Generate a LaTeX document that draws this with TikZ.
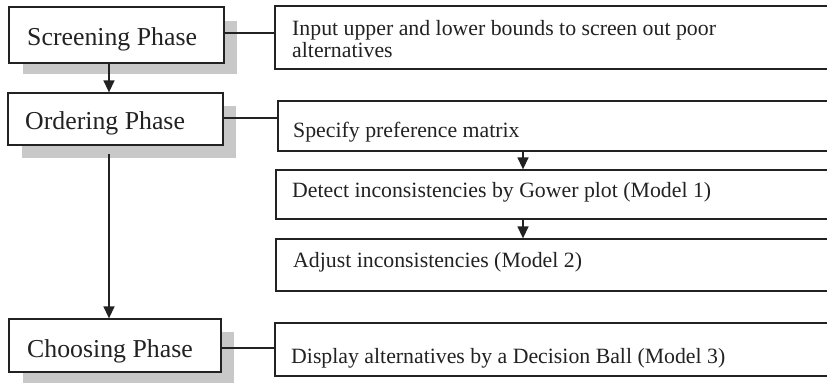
\documentclass[tikz,border=0pt]{standalone}
\usepackage{fontspec}
\setmainfont{Liberation Serif}
\usetikzlibrary{arrows.meta}
\definecolor{ink}{HTML}{222222}
\definecolor{shade}{HTML}{C8C8C8}
\begin{document}
\begin{tikzpicture}[x=1pt,y=-1pt,
  box/.style={draw=ink,line width=1.3pt,fill=white},
  shadowbox/.style={fill=shade},
  phasetxt/.style={inner sep=0pt,anchor=base west,font=\fontsize{25.8}{27}\selectfont,text=ink},
  steptxt/.style={inner sep=0pt,anchor=base west,font=\fontsize{21.8}{22}\selectfont,text=ink,align=left},
  conn/.style={draw=ink,line width=1.2pt},
  arr/.style={draw=ink,line width=1.4pt,-{Triangle[length=12pt,width=11pt]}}]
\useasboundingbox (0,0) rectangle (827,384);
\clip (0,0) rectangle (827,384);
% shadows
\fill[shadowbox] (23,21) rectangle (237,74);
\fill[shadowbox] (22,106) rectangle (236,158);
\fill[shadowbox] (23,332) rectangle (234,383);
% phase boxes
\node[box,inner sep=0pt,minimum width=215pt,minimum height=56pt] (S) at (116.5,35) {};
\node[box,inner sep=0pt,minimum width=215pt,minimum height=52pt] (O) at (115.5,119) {};
\node[box,inner sep=0pt,minimum width=212pt,minimum height=53pt] (C) at (115,345.5) {};
% step boxes
\node[box,inner sep=0pt,minimum width=560pt,minimum height=63pt] (I) at (555,37.5) {};
\node[box,inner sep=0pt,minimum width=557pt,minimum height=50pt] (P) at (556.5,126) {};
\node[box,inner sep=0pt,minimum width=559pt,minimum height=49pt] (D) at (555.5,194.5) {};
\node[box,inner sep=0pt,minimum width=559pt,minimum height=52pt] (A) at (555.5,265) {};
\node[box,inner sep=0pt,minimum width=560pt,minimum height=53pt] (B) at (555,349.5) {};
% texts
\node[phasetxt] (St) at (27,45) {Screening Phase};
\node[phasetxt] (Ot) at (25,129) {Ordering Phase};
\node[phasetxt] (Ct) at (27,357) {Choosing Phase};
\node[steptxt] (It1) at (292,35) {Input upper and lower bounds to screen out poor};
\node[steptxt] (It2) at (292,57) {alternatives};
\node[steptxt] (Pt) at (293,137) {Specify preference matrix};
\node[steptxt] (Dt) at (292,197) {Detect inconsistencies by Gower plot (Model 1)};
\node[steptxt] (At) at (293,267) {Adjust inconsistencies (Model 2)};
\node[steptxt] (Bt) at (291,363) {Display alternatives by a Decision Ball (Model 3)};
% connectors
\coordinate (xl) at (109,0);
\coordinate (xr) at (523,0);
\draw[conn] (S.east |- 0,33) -- (I.west |- 0,33);
\draw[conn] (O.east |- 0,118) -- (P.west |- 0,118);
\draw[conn] (C.east |- 0,348) -- (B.west |- 0,348);
\draw[arr] (S.south -| xl) -- (O.north -| xl);
\draw[arr,shorten <=8pt] (O.south -| xl) -- (C.north -| xl);
\draw[arr] (P.south -| xr) -- (D.north -| xr);
\draw[arr] (D.south -| xr) -- (A.north -| xr);
\end{tikzpicture}
\end{document}
